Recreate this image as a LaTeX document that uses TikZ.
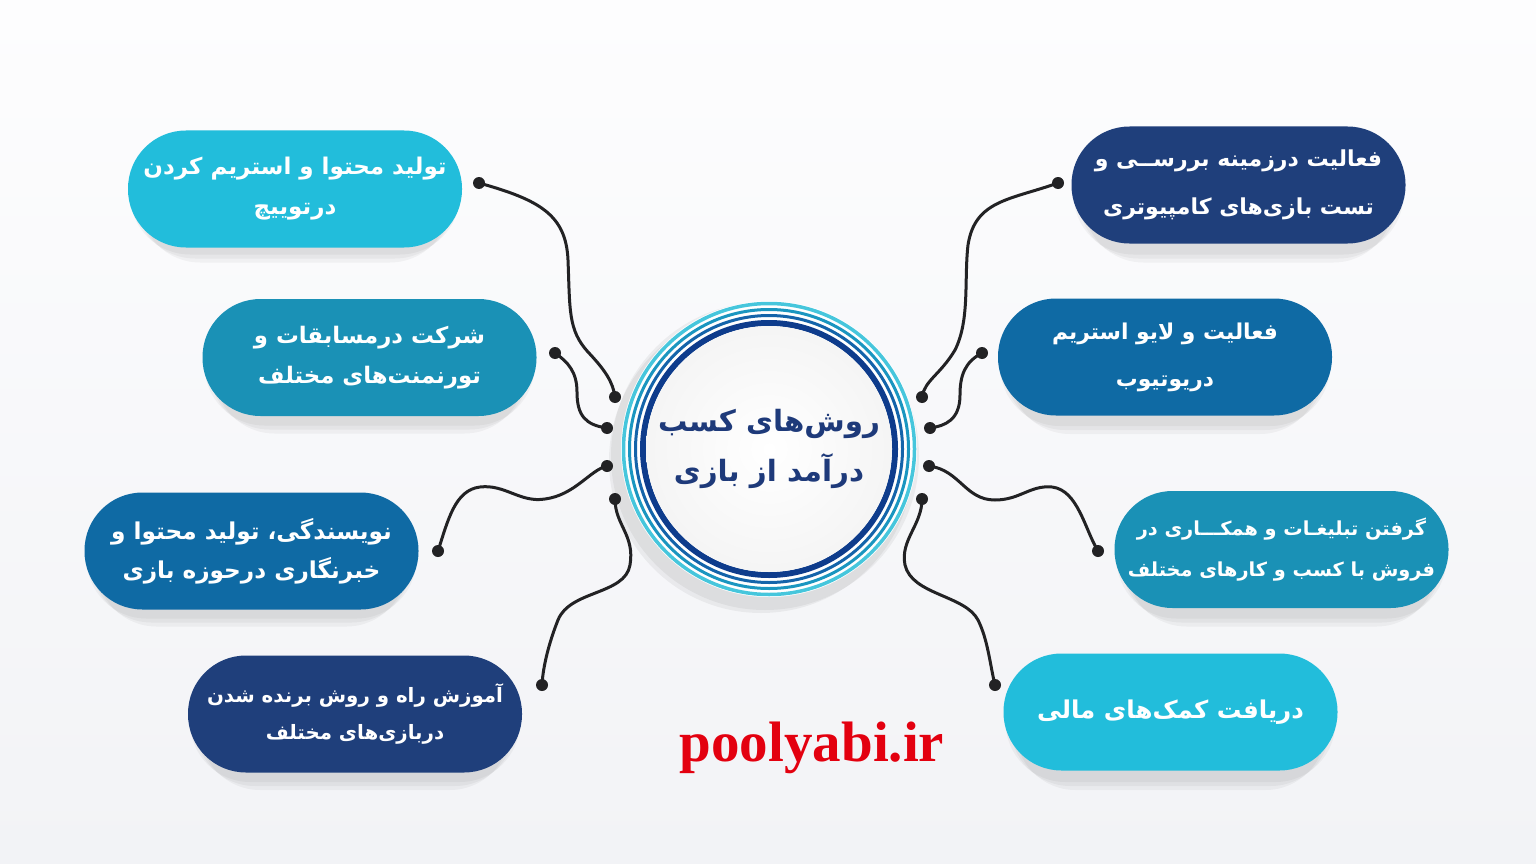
\documentclass[tikz,border=0pt]{standalone}
\usepackage{fontspec}
\newfontfamily\fa[Script=Arabic]{DejaVu Sans}
\newfontfamily\wmfont{Liberation Serif}
\TeXXeTstate=1
\newcommand{\rl}[1]{\beginR #1\endR}
\definecolor{bgtop}{RGB}{253,253,254}
\definecolor{bgbot}{RGB}{242,243,246}
\definecolor{cyanp}{RGB}{34,189,219}
\definecolor{tealp}{RGB}{26,145,182}
\definecolor{bluep}{RGB}{15,106,164}
\definecolor{navyp}{RGB}{31,63,123}
\definecolor{wirec}{RGB}{34,34,36}
\definecolor{titlec}{RGB}{30,58,122}
\definecolor{wmred}{RGB}{227,0,15}
\definecolor{ringa}{RGB}{70,198,220}
\definecolor{ringb}{RGB}{26,150,192}
\definecolor{ringc}{RGB}{20,100,170}
\definecolor{ringd}{RGB}{14,60,140}
\tikzset{
  pill/.style={rounded corners=58pt, minimum width=334pt, minimum height=117pt,
    text=white, align=center, inner sep=0pt},
  pf/.style={font=\fa\bfseries\fontsize{#1}{40}\selectfont},
  pfs/.style 2 args={font=\fa\bfseries\fontsize{#1}{#2}\selectfont},
  wire/.style={draw=wirec, line width=3pt, line cap=round},
  shade1/.style={fill=black, opacity=0.04, rounded corners=60pt},
}
\newcommand{\pshadow}[2]{%
  \fill[shade1] ({#1-165},{#2-50}) rectangle ({#1+165},{#2+68});
  \fill[shade1] ({#1-160},{#2-45}) rectangle ({#1+160},{#2+72});
  \fill[shade1] ({#1-155},{#2-40}) rectangle ({#1+155},{#2+76});
}
\begin{document}
\begin{tikzpicture}[x=1pt,y=-1pt]
\useasboundingbox (0,0) rectangle (1536,864);
\shade[top color=bgtop, bottom color=bgbot] (0,0) rectangle (1536,864);

% shadows
\pshadow{295}{186.5}
\pshadow{369.5}{357.5}
\pshadow{251.5}{550.5}
\pshadow{355}{714}
\pshadow{1238.5}{186.5}
\pshadow{1165}{358}
\pshadow{1281.5}{550.5}
\pshadow{1170.5}{714}

% pills
\node[pill, fill=cyanp, pf=23] (p1) at (295,189) {\rl{تولید محتوا و استریم کردن}\\\rl{درتوییچ}};
\node[pill, fill=tealp, pf=22.8] (p2) at (369.5,357.5) {\rl{شرکت درمسابقات و}\\\rl{تورنمنت‌های مختلف}};
\node[pill, fill=bluep, pfs={23.2}{39}] (p3) at (251.5,551) {\rl{نویسندگی، تولید محتوا و}\\\rl{خبرنگاری درحوزه بازی}};
\node[pill, fill=navyp, pfs={19.8}{37}] (p4) at (355,714) {\rl{آموزش راه و روش برنده شدن}\\\rl{دربازی‌های مختلف}};
\node[pill, fill=navyp, pfs={22}{48}] (p5) at (1238.5,185) {\rl{فعالیت درزمینه بررســی و}\\\rl{تست بازی‌های کامپیوتری}};
\node[pill, fill=bluep, pfs={21.8}{47}] (p6) at (1165,357) {\rl{فعالیت و لایو استریم}\\\rl{دریوتیوب}};
\node[pill, fill=tealp, pfs={19.3}{41}] (p7) at (1281.5,549.5) {\rl{گرفتن تبلیغـات و همکـــاری در}\\\rl{فروش با کسب و کارهای مختلف}};
\node[pill, fill=cyanp, pf=24.5] (p8) at (1170.5,712) {\rl{دریافت کمک‌های مالی}};

% center hub
\coordinate (hubc) at (769,449);
\fill[black, opacity=0.05] ([shift={(-8,12)}]hubc) circle (152);
\fill[black, opacity=0.05] ([shift={(-4,7)}]hubc) circle (154);
\fill[white] (hubc) circle (148);
\draw[ringa, line width=3.5pt] (hubc) circle (145.5);
\draw[ringb, line width=3pt] (hubc) circle (139.5);
\draw[ringc, line width=3pt] (hubc) circle (133.5);
\draw[ringd, line width=6pt] (hubc) circle (126);
\shade[inner color=white, outer color=black!4] (hubc) circle (123);
\node[text=titlec, align=center, font=\fa\bfseries\fontsize{29.3}{50}\selectfont] (hub) at (hubc) {\rl{روش‌های کسب}\\\rl{درآمد از بازی}};

% connector end points
\coordinate (a1) at (479,183);  \coordinate (b1) at (615,397);
\coordinate (a2) at (555,353);  \coordinate (b2) at (607,428);
\coordinate (a3) at (438,551);  \coordinate (b3) at (607,466);
\coordinate (a4) at (542,685);  \coordinate (b4) at (615,499);
\coordinate (a5) at (1058,183); \coordinate (b5) at (922,397);
\coordinate (a6) at (982,353);  \coordinate (b6) at (930,428);
\coordinate (a7) at (1098,551); \coordinate (b7) at (929,466);
\coordinate (a8) at (995,685);  \coordinate (b8) at (922,499);

\draw[wire] (a1) .. controls (540,200) and (566,215) .. (568,260)
  .. controls (570,310) and (568,330) .. (588,352)
  .. controls (605,370) and (613,382) .. (b1);
\draw[wire] (a2) .. controls (568,362) and (577,372) .. (577,392)
  .. controls (577,415) and (585,425) .. (b2);
\draw[wire] (a3) .. controls (448,520) and (455,490) .. (480,487)
  .. controls (505,484) and (520,503) .. (545,499)
  .. controls (575,495) and (590,470) .. (b3);
\draw[wire] (b4) .. controls (615,525) and (635,535) .. (630,565)
  .. controls (625,595) and (570,590) .. (558,620)
  .. controls (550,640) and (543,665) .. (a4);
\draw[wire] (a5) .. controls (1010,200) and (975,200) .. (968,245)
  .. controls (964,280) and (970,320) .. (955,350)
  .. controls (940,375) and (925,380) .. (b5);
\draw[wire] (a6) .. controls (965,362) and (960,375) .. (960,395)
  .. controls (960,420) and (945,426) .. (b6);
\draw[wire] (b7) .. controls (960,470) and (965,500) .. (995,500)
  .. controls (1020,500) and (1030,485) .. (1052,487)
  .. controls (1078,490) and (1085,530) .. (a7);
\draw[wire] (b8) .. controls (922,525) and (900,540) .. (905,565)
  .. controls (912,595) and (965,595) .. (978,620)
  .. controls (988,640) and (990,665) .. (a8);

\foreach \d in {a1,b1,a2,b2,a3,b3,a4,b4,a5,b5,a6,b6,a7,b7,a8,b8}
  \fill[wirec] (\d) circle (6);

% watermark
\node[text=wmred, font=\wmfont\bfseries\fontsize{57}{57}\selectfont] (wm) at (812,748) {poolyabi.ir};
\end{tikzpicture}
\end{document}
